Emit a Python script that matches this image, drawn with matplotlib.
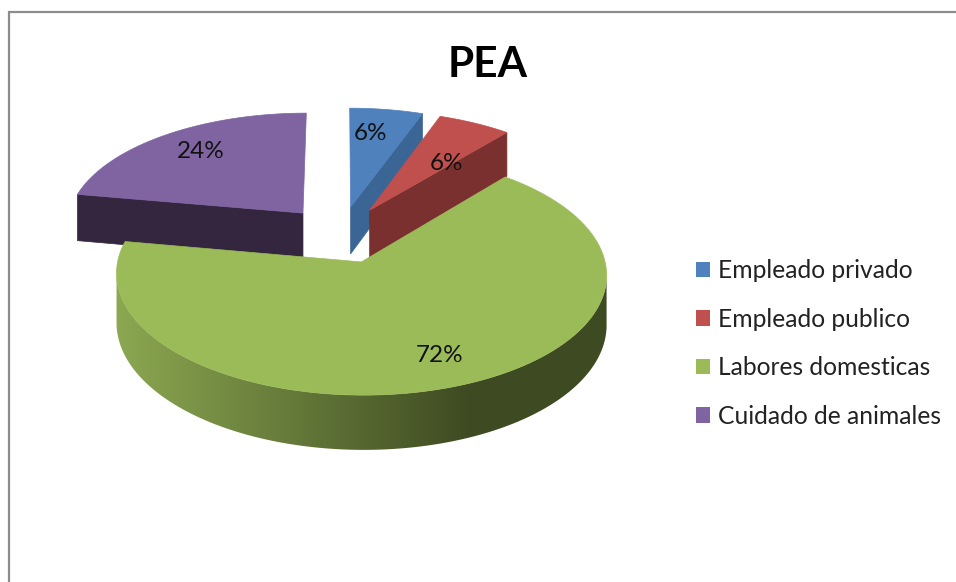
import matplotlib as mpl
mpl.use("Agg")
import matplotlib.pyplot as plt
import numpy as np
from matplotlib.colors import to_rgb
from matplotlib.patches import Patch, Polygon

mpl.rc("font", family=["Lato", "DejaVu Sans"])

title = "PEA"
categories = ["Empleado privado", "Empleado publico", "Labores domesticas", "Cuidado de animales"]
values = [6, 6, 72, 24]

top_colors = ["#4F81BD", "#C0504D", "#9BBB59", "#8064A2"]
face_colors = ["#3A6594", "#7A302E", "#6F8A3E", "#35263F"]
side_light = "#8CA851"
side_dark = "#3E4A22"

# projection of the tilted disc onto the picture
cx, cy = 340.5, 234.5
sx, sy = 238, 114
persp = 0.10
depth = 48
explode = 0.25


def project(x, y, z=0.0):
    p = 1 / (1 + persp * y)
    return cx + sx * x * p, cy - sy * y * p + depth * z * p


def slice_points(a0, a1, z=0.0):
    mid = np.radians((a0 + a1) / 2)
    ox, oy = explode * np.sin(mid), explode * np.cos(mid)
    t = np.radians(np.linspace(a0, a1, 500))
    ax_x, ax_y = project(ox, oy, z)
    xs, ys = project(ox + np.sin(t), oy + np.cos(t), z)
    return (ax_x, ax_y), np.column_stack([xs, ys])


def draw_cut(ax, a0, a1, angle, color, zorder):
    # flat radial face of an exploded slice
    mid = np.radians((a0 + a1) / 2)
    ox, oy = explode * np.sin(mid), explode * np.cos(mid)
    a = np.radians(angle)
    pts = [
        project(ox, oy, 0),
        project(ox + np.sin(a), oy + np.cos(a), 0),
        project(ox + np.sin(a), oy + np.cos(a), 1),
        project(ox, oy, 1),
    ]
    ax.add_patch(Polygon(pts, closed=True, fc=color, ec=color, lw=0.5, zorder=zorder))


def draw_side(ax, a0, a1, zorder):
    # outer wall of the big slice, between the rim's left and right extremes
    _, top = slice_points(a0, a1, 0)
    _, bottom = slice_points(a0, a1, 1)
    i0, i1 = top[:, 0].argmax(), top[:, 0].argmin() + 1
    top, bottom = top[i0:i1], bottom[i0:i1]
    outline = Polygon(np.vstack([top, bottom[::-1]]), closed=True, transform=ax.transData)
    light, dark = np.array(to_rgb(side_light)), np.array(to_rgb(side_dark))
    x0, x1 = top[:, 0].min() - 2, top[:, 0].max() + 2
    y0, y1 = top[:, 1].min() - 2, bottom[:, 1].max() + 2
    xs = np.linspace(x0, x1, 600)
    f = np.clip((xs - 115) / 355, 0, 1)[:, None]
    ramp = (light + (dark - light) * f)[None, :, :]
    im = ax.imshow(ramp, extent=(x0, x1, y1, y0), aspect="auto", interpolation="nearest", zorder=zorder)
    im.set_clip_path(outline)


fig = plt.figure(figsize=(9.56, 5.82), dpi=100)
ax = fig.add_axes([0, 0, 1, 1])
ax.axis("off")

# chart frame, cut off at right and bottom
ax.plot([9, 9, 956], [582, 12, 12], color="#8C8C8C", lw=1.6, solid_joinstyle="miter")

edges = np.cumsum([0] + values) / sum(values) * 360
spans = list(zip(edges[:-1], edges[1:]))

# back to front: purple, blue, red, green
for i, z in [(3, 2), (0, 4), (1, 6), (2, 8)]:
    a0, a1 = spans[i]
    if i == 2:
        draw_side(ax, a0, a1, z)
    elif i == 3:
        draw_cut(ax, a0, a1, a0, face_colors[i], z)
    else:
        draw_cut(ax, a0, a1, a1, face_colors[i], z)
    apex, rim = slice_points(a0, a1)
    ax.add_patch(Polygon(np.vstack([apex, rim]), closed=True, fc=top_colors[i], ec=top_colors[i], lw=0.5, zorder=z + 1))

ax.set_xlim(0, 956)
ax.set_ylim(582, 0)

label_xy = [(371, 133), (447, 163), (440, 355), (201, 151)]
for v, (x, y) in zip(values, label_xy):
    ax.text(x, y, f"{v}%", ha="center", va="center", fontsize=17.5, color="#111111", zorder=20)

ax.text(488, 65, title, ha="center", va="center", fontsize=30.5, fontweight="bold", color="black", zorder=20)

handles = [Patch(fc=c, ec="none") for c in top_colors]
ax.legend(
    handles, categories, loc="center left", bbox_to_anchor=(681, 343.5), bbox_transform=ax.transData,
    frameon=False, fontsize=17.7, labelcolor="#222222", handlelength=0.6, handleheight=0.6,
    handletextpad=0.3, labelspacing=1.04, borderpad=0, borderaxespad=0.6,
)

fig.savefig("out.png", dpi=100)
